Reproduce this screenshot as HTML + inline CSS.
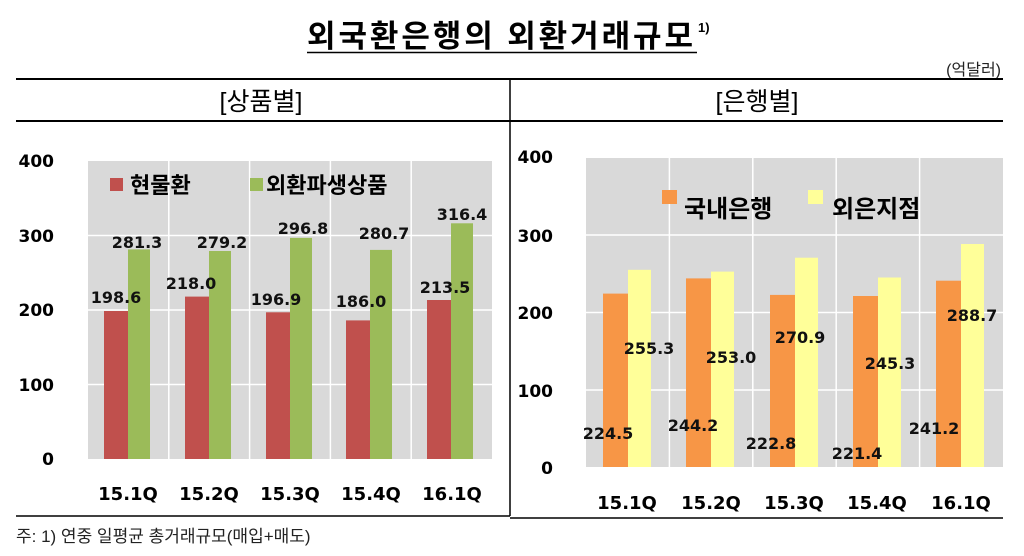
<!DOCTYPE html>
<html><head><meta charset="utf-8"><style>
html,body{margin:0;padding:0;background:#fff;}
svg{display:block;}
</style></head><body>
<svg width="1024" height="556" xmlns="http://www.w3.org/2000/svg" font-family="'Liberation Sans','Noto Sans CJK KR',sans-serif">
<rect width="1024" height="556" fill="#fff"/>
<!-- title -->
<text x="307" y="47" font-size="31" font-weight="bold" fill="#000" textLength="386" lengthAdjust="spacing">외국환은행의 외환거래규모</text>
<text x="698" y="32" font-size="13" font-weight="bold" fill="#000">1)</text>
<line x1="307" y1="52.5" x2="697" y2="52.5" stroke="#000" stroke-width="1.5"/>
<text x="1001" y="75" font-size="16" text-anchor="end" fill="#222">(억달러)</text>
<line x1="16" y1="79" x2="1003" y2="79" stroke="#000" stroke-width="2"/>
<line x1="16" y1="121" x2="1003" y2="121" stroke="#000" stroke-width="2"/>
<line x1="510" y1="79" x2="510" y2="516" stroke="#000" stroke-width="1.5"/>
<text x="261" y="110" font-size="25" text-anchor="middle" fill="#000">[상품별]</text>
<text x="757" y="110" font-size="25" text-anchor="middle" fill="#000">[은행별]</text>
<line x1="16" y1="516" x2="510" y2="516" stroke="#000" stroke-width="1.5"/>
<line x1="510" y1="518" x2="1003" y2="518" stroke="#000" stroke-width="1.5"/>
<text x="16" y="542" font-size="17" fill="#222">주: 1) 연중 일평균 총거래규모(매입+매도)</text>

<!-- left chart -->
<rect x="88" y="161" width="404" height="298" fill="#d9d9d9"/>
<g stroke="#fff" stroke-width="1.5">
<line x1="88" y1="235.5" x2="492" y2="235.5"/><line x1="88" y1="310" x2="492" y2="310"/><line x1="88" y1="384.5" x2="492" y2="384.5"/>
<line x1="168.8" y1="161" x2="168.8" y2="459"/><line x1="249.6" y1="161" x2="249.6" y2="459"/><line x1="330.4" y1="161" x2="330.4" y2="459"/><line x1="411.2" y1="161" x2="411.2" y2="459"/>
</g>
<g font-family="'DejaVu Sans',sans-serif" font-weight="bold" font-size="17" fill="#000" text-anchor="end">
<text x="54" y="167">400</text><text x="54" y="242">300</text><text x="54" y="316">200</text><text x="54" y="391">100</text><text x="54" y="465">0</text>
</g>
<g fill="#c0504d">
<rect x="104" y="311" width="24" height="148"/><rect x="185" y="296.6" width="24" height="162.4"/><rect x="266" y="312.3" width="24" height="146.7"/><rect x="346" y="320.4" width="24" height="138.6"/><rect x="427" y="300" width="24" height="159"/>
</g>
<g fill="#9bbb59">
<rect x="128" y="249.4" width="22" height="209.6"/><rect x="209" y="251" width="22" height="208"/><rect x="290" y="237.9" width="22" height="221.1"/><rect x="370" y="249.9" width="22" height="209.1"/><rect x="451" y="223.3" width="22" height="235.7"/>
</g>
<rect x="110" y="178" width="13" height="13" fill="#c0504d"/>
<text x="130" y="193" font-size="22" font-weight="bold" fill="#000">현물환</text>
<rect x="250" y="178" width="13" height="13" fill="#9bbb59"/>
<text x="266" y="193" font-size="22" font-weight="bold" fill="#000">외환파생상품</text>
<g font-family="'DejaVu Sans',sans-serif" font-weight="bold" font-size="16" fill="#111" text-anchor="middle">
<text x="116" y="303">198.6</text><text x="137" y="248">281.3</text>
<text x="191" y="289">218.0</text><text x="222" y="248">279.2</text>
<text x="276" y="305">196.9</text><text x="303" y="234">296.8</text>
<text x="361" y="307">186.0</text><text x="384" y="239">280.7</text>
<text x="445" y="293">213.5</text><text x="462" y="220">316.4</text>
</g>
<g font-family="'DejaVu Sans',sans-serif" font-weight="bold" font-size="18" fill="#000" text-anchor="middle">
<text x="128" y="500">15.1Q</text><text x="209" y="500">15.2Q</text><text x="290" y="500">15.3Q</text><text x="371" y="500">15.4Q</text><text x="452" y="500">16.1Q</text>
</g>

<!-- right chart -->
<rect x="586" y="158" width="417" height="309" fill="#d9d9d9"/>
<g stroke="#fff" stroke-width="1.5">
<line x1="586" y1="235" x2="1003" y2="235"/><line x1="586" y1="312.5" x2="1003" y2="312.5"/><line x1="586" y1="390" x2="1003" y2="390"/>
<line x1="669.4" y1="158" x2="669.4" y2="467"/><line x1="752.8" y1="158" x2="752.8" y2="467"/><line x1="836.2" y1="158" x2="836.2" y2="467"/><line x1="919.6" y1="158" x2="919.6" y2="467"/>
</g>
<g font-family="'DejaVu Sans',sans-serif" font-weight="bold" font-size="17" fill="#000" text-anchor="end">
<text x="553" y="163">400</text><text x="553" y="242">300</text><text x="553" y="319">200</text><text x="553" y="397">100</text><text x="553" y="474">0</text>
</g>
<g fill="#f79646">
<rect x="603" y="293.6" width="25" height="173.4"/><rect x="686" y="278.4" width="25" height="188.6"/><rect x="770" y="294.9" width="25" height="172.1"/><rect x="853" y="296" width="25" height="171"/><rect x="936" y="280.7" width="25" height="186.3"/>
</g>
<g fill="#ffff99">
<rect x="628" y="269.8" width="23" height="197.2"/><rect x="711" y="271.6" width="23" height="195.4"/><rect x="795" y="257.7" width="23" height="209.3"/><rect x="878" y="277.5" width="23" height="189.5"/><rect x="961" y="244" width="23" height="223"/>
</g>
<rect x="662" y="190" width="15" height="14" fill="#f79646"/>
<text x="684" y="217" font-size="24" font-weight="bold" fill="#000">국내은행</text>
<rect x="808" y="190" width="15" height="14" fill="#ffff99"/>
<text x="832" y="217" font-size="24" font-weight="bold" fill="#000">외은지점</text>
<g font-family="'DejaVu Sans',sans-serif" font-weight="bold" font-size="16" fill="#111" text-anchor="middle">
<text x="608" y="439">224.5</text><text x="649" y="354">255.3</text>
<text x="693" y="431">244.2</text><text x="731" y="363">253.0</text>
<text x="771" y="449">222.8</text><text x="800" y="343">270.9</text>
<text x="857" y="459">221.4</text><text x="890" y="369">245.3</text>
<text x="934" y="434">241.2</text><text x="972" y="321">288.7</text>
</g>
<g font-family="'DejaVu Sans',sans-serif" font-weight="bold" font-size="18" fill="#000" text-anchor="middle">
<text x="627" y="509">15.1Q</text><text x="711" y="509">15.2Q</text><text x="794" y="509">15.3Q</text><text x="877" y="509">15.4Q</text><text x="961" y="509">16.1Q</text>
</g>
</svg>
</body></html>
